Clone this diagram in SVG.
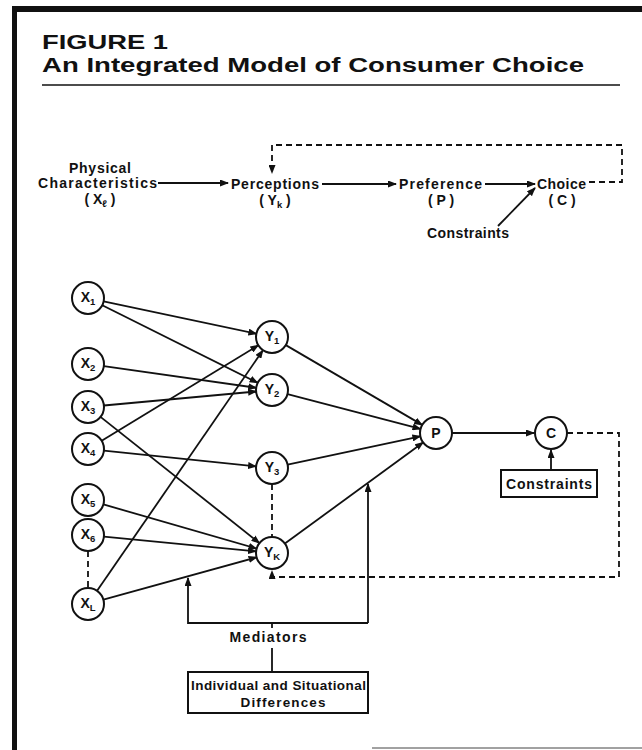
<svg xmlns="http://www.w3.org/2000/svg" width="642" height="750" viewBox="0 0 642 750">
<style>
.t{font-family:"Liberation Sans",Arial,Helvetica,sans-serif;font-weight:bold;fill:#111}
.lbl{font-size:14px}
.nl{font-size:14px;text-anchor:middle}
.sub{font-size:9.5px}
.n circle{fill:#fff;stroke:#111;stroke-width:2}
.e{stroke:#111;stroke-width:1.8;fill:none}
.d{stroke-dasharray:6 4}
.box{fill:#fff;stroke:#111;stroke-width:2}
</style>
<defs>
<marker id="ah" markerUnits="userSpaceOnUse" markerWidth="9" markerHeight="7" refX="8" refY="3.5" orient="auto">
<path d="M0,0 L9,3.5 L0,7 z" fill="#111"/>
</marker>
</defs>
<rect x="12" y="6" width="630" height="6" fill="#111"/>
<rect x="12" y="6" width="5" height="744" fill="#111"/>
<line x1="372" y1="748" x2="642" y2="748" stroke="#444" stroke-width="1"/>
<text class="t" x="42" y="49" font-size="20" textLength="126" lengthAdjust="spacingAndGlyphs">FIGURE 1</text>
<text class="t" x="42" y="72" font-size="20" textLength="542" lengthAdjust="spacingAndGlyphs">An Integrated Model of Consumer Choice</text>
<line x1="42" y1="85" x2="620" y2="85" stroke="#111" stroke-width="1.5"/>
<g id="top-physical">
<text class="t lbl" x="100" y="173" text-anchor="middle" textLength="62">Physical</text>
<text class="t lbl" x="38" y="188" textLength="119">Characteristics</text>
<text class="t lbl" x="100" y="204" text-anchor="middle">( X<tspan class="sub" dy="3">ℓ</tspan><tspan dy="-3"> )</tspan></text>
</g>
<g id="top-perceptions">
<text class="t lbl" x="231" y="189" textLength="88">Perceptions</text>
<text class="t lbl" x="275" y="205" text-anchor="middle">( Y<tspan class="sub" dy="3">k</tspan><tspan dy="-3"> )</tspan></text>
</g>
<g id="top-preference">
<text class="t lbl" x="399" y="189" textLength="83">Preference</text>
<text class="t lbl" x="441" y="205" text-anchor="middle">( P )</text>
</g>
<g id="top-choice">
<text class="t lbl" x="537" y="189" textLength="49">Choice</text>
<text class="t lbl" x="562" y="205" text-anchor="middle">( C )</text>
</g>
<g id="top-constraints">
<text class="t lbl" x="468" y="238" text-anchor="middle" textLength="82">Constraints</text>
</g>
<g id="top-connectors">
<line class="e" x1="158" y1="183" x2="228" y2="183" marker-end="url(#ah)"/>
<line class="e" x1="322" y1="184" x2="396" y2="184" marker-end="url(#ah)"/>
<line class="e" x1="485" y1="184" x2="535" y2="184" marker-end="url(#ah)"/>
<line class="e" x1="498" y1="226" x2="535" y2="188" marker-end="url(#ah)"/>
<path class="e d" d="M589,182 H622 V145 H272 V173" marker-end="url(#ah)"/>
</g>
<g id="connectors">
<line class="e" x1="103.6" y1="301.3" x2="256.4" y2="333.7" marker-end="url(#ah)"/>
<line class="e" x1="102.3" y1="305.2" x2="257.7" y2="382.8" marker-end="url(#ah)"/>
<line class="e" x1="103.8" y1="366.2" x2="256.2" y2="387.8" marker-end="url(#ah)"/>
<line class="e" x1="103.9" y1="405.5" x2="256.1" y2="391.5" marker-end="url(#ah)"/>
<line class="e" x1="100.5" y1="416.9" x2="259.5" y2="543.1" marker-end="url(#ah)"/>
<line class="e" x1="101.7" y1="440.7" x2="258.3" y2="345.3" marker-end="url(#ah)"/>
<line class="e" x1="103.9" y1="450.6" x2="256.1" y2="466.4" marker-end="url(#ah)"/>
<line class="e" x1="103.4" y1="504.4" x2="256.6" y2="548.6" marker-end="url(#ah)"/>
<line class="e" x1="103.9" y1="536.6" x2="256.1" y2="551.4" marker-end="url(#ah)"/>
<line class="e" x1="97.1" y1="590.8" x2="262.9" y2="350.2" marker-end="url(#ah)"/>
<line class="e" x1="103.4" y1="599.7" x2="256.6" y2="557.3" marker-end="url(#ah)"/>
<line class="e d" x1="88" y1="551" x2="88" y2="588"/>
<line class="e d" x1="272" y1="484" x2="272" y2="537"/>
<line class="e" x1="285.8" y1="345.1" x2="422.2" y2="424.9" marker-end="url(#ah)"/>
<line class="e" x1="287.5" y1="394.1" x2="420.5" y2="428.9" marker-end="url(#ah)"/>
<line class="e" x1="287.6" y1="464.7" x2="420.4" y2="436.3" marker-end="url(#ah)"/>
<line class="e" x1="284.9" y1="543.6" x2="423.1" y2="442.4" marker-end="url(#ah)"/>
<line class="e" x1="452" y1="433" x2="534" y2="433" marker-end="url(#ah)"/>
<line class="e" x1="551" y1="470" x2="551" y2="450" marker-end="url(#ah)"/>
<path class="e d" d="M567,433 H619 V577 H272 V571" marker-end="url(#ah)"/>
<path class="e" d="M368,623 H188 V578" marker-end="url(#ah)"/>
<path class="e" d="M368,623 V484" marker-end="url(#ah)"/>
<line class="e" x1="272" y1="623" x2="272" y2="628"/>
<line class="e" x1="272" y1="648" x2="272" y2="672"/>
</g>
<g id="X1" class="n"><circle cx="88" cy="298" r="16"/><text class="t nl" x="88" y="302">X<tspan class="sub" dy="3">1</tspan></text></g>
<g id="X2" class="n"><circle cx="88" cy="364" r="16"/><text class="t nl" x="88" y="368">X<tspan class="sub" dy="3">2</tspan></text></g>
<g id="X3" class="n"><circle cx="88" cy="407" r="16"/><text class="t nl" x="88" y="411">X<tspan class="sub" dy="3">3</tspan></text></g>
<g id="X4" class="n"><circle cx="88" cy="449" r="16"/><text class="t nl" x="88" y="453">X<tspan class="sub" dy="3">4</tspan></text></g>
<g id="X5" class="n"><circle cx="88" cy="500" r="16"/><text class="t nl" x="88" y="504">X<tspan class="sub" dy="3">5</tspan></text></g>
<g id="X6" class="n"><circle cx="88" cy="535" r="16"/><text class="t nl" x="88" y="539">X<tspan class="sub" dy="3">6</tspan></text></g>
<g id="XL" class="n"><circle cx="88" cy="604" r="16"/><text class="t nl" x="88" y="608">X<tspan class="sub" dy="3">L</tspan></text></g>
<g id="Y1" class="n"><circle cx="272" cy="337" r="16"/><text class="t nl" x="272" y="341">Y<tspan class="sub" dy="3">1</tspan></text></g>
<g id="Y2" class="n"><circle cx="272" cy="390" r="16"/><text class="t nl" x="272" y="394">Y<tspan class="sub" dy="3">2</tspan></text></g>
<g id="Y3" class="n"><circle cx="272" cy="468" r="16"/><text class="t nl" x="272" y="472">Y<tspan class="sub" dy="3">3</tspan></text></g>
<g id="YK" class="n"><circle cx="272" cy="553" r="16"/><text class="t nl" x="272" y="557">Y<tspan class="sub" dy="3">K</tspan></text></g>
<g id="P" class="n"><circle cx="436" cy="433" r="16"/><text class="t nl" x="436" y="438">P</text></g>
<g id="C" class="n"><circle cx="551" cy="433" r="16"/><text class="t nl" x="551" y="438">C</text></g>
<g id="constraints-box"><rect class="box" x="501" y="470" width="96" height="27"/><text class="t lbl" x="549" y="489" text-anchor="middle" textLength="86">Constraints</text></g>
<g id="mediators"><text class="t lbl" x="268" y="642" text-anchor="middle" textLength="77">Mediators</text></g>
<g id="differences-box"><rect class="box" x="188" y="672" width="180" height="41"/>
<text class="t" font-size="13.5" x="191" y="690" textLength="175">Individual and Situational</text>
<text class="t" font-size="13.5" x="283" y="707" text-anchor="middle" textLength="85">Differences</text></g>
</svg>
